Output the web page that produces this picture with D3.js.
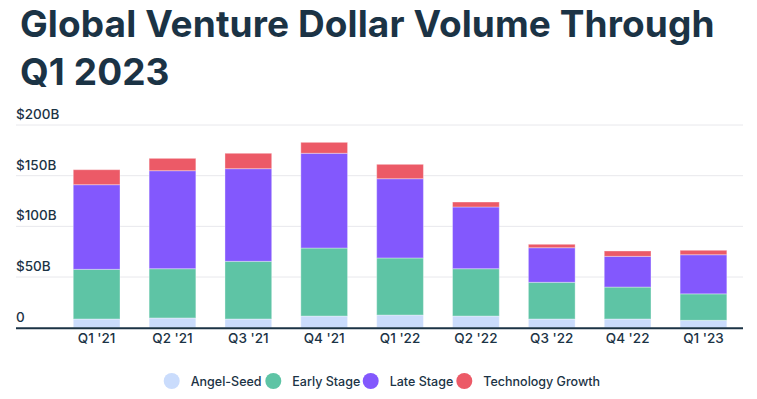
<!DOCTYPE html>
<html>
<head>
<meta charset="utf-8">
<script src="https://cdn.jsdelivr.net/npm/d3@7"></script>
<style>
  body { margin: 0; background: #fff; }
  text { font-family: Inter, "Noto Sans", sans-serif; fill: #1b3345; }
</style>
</head>
<body>
<div id="vis"></div>
<script>
// chart size
const FRAME_WIDTH = 757;
const FRAME_HEIGHT = 399;

// data, billions of dollars
const quarters = ["Q1 '21", "Q2 '21", "Q3 '21", "Q4 '21", "Q1 '22", "Q2 '22", "Q3 '22", "Q4 '22", "Q1 '23"];
const angelSeed = [8.6, 9.6, 8.6, 11.5, 12.5, 11.5, 8.6, 8.6, 7.3];
const earlyStage = [49.0, 48.6, 56.9, 67.1, 56.3, 46.7, 36.2, 31.5, 26.1];
const lateStage = [83.5, 96.7, 91.4, 93.5, 78.2, 60.9, 34.1, 30.3, 38.6];
const techGrowth = [14.8, 12.2, 15.2, 10.8, 14.2, 4.9, 3.4, 5.3, 4.4];
const seriesNames = ["Angel-Seed", "Early Stage", "Late Stage", "Technology Growth"];
const seriesColors = ["#cadcfc", "#5ec4a5", "#8358fd", "#ec5a67"];
const yTicks = [0, 50, 100, 150, 200];

const rows = quarters.map((q, i) => ({
  quarter: q,
  "Angel-Seed": angelSeed[i],
  "Early Stage": earlyStage[i],
  "Late Stage": lateStage[i],
  "Technology Growth": techGrowth[i]
}));

const FRAME = d3.select("#vis")
  .append("svg")
    .attr("width", FRAME_WIDTH)
    .attr("height", FRAME_HEIGHT);

// title
const title = FRAME.append("text")
  .attr("x", 20)
  .attr("font-size", 37)
  .attr("font-weight", 700)
  .attr("letter-spacing", 0.1);
title.append("tspan").attr("x", 20).attr("y", 37).text("Global Venture Dollar Volume Through");
title.append("tspan").attr("x", 20).attr("y", 85).text("Q1 2023");

// scales
const X_SCALE = d3.scaleBand()
  .domain(quarters)
  .range([58.7, 741.4])
  .paddingInner(0.384)
  .paddingOuter(0.192);

const Y_SCALE = d3.scaleLinear()
  .domain([0, 200])
  .range([327.7, 125]);

// gridlines + y labels
FRAME.append("g")
  .selectAll("line")
  .data(yTicks.slice(1))
  .enter()
  .append("line")
    .attr("x1", 16)
    .attr("x2", 743)
    .attr("y1", d => Y_SCALE(d))
    .attr("y2", d => Y_SCALE(d))
    .attr("stroke", "#e8e8ec")
    .attr("stroke-width", 1);

FRAME.append("g")
  .selectAll("text")
  .data(yTicks)
  .enter()
  .append("text")
    .attr("x", 16)
    .attr("y", d => Y_SCALE(d) - 6)
    .attr("font-size", 13.5)
    .attr("font-weight", 500)
    .text(d => d === 0 ? "0" : "$" + d + "B");

// stacked bars
const stack = d3.stack().keys(seriesNames)(rows);

FRAME.append("g")
  .selectAll("g")
  .data(stack)
  .enter()
  .append("g")
    .attr("fill", (d, i) => seriesColors[i])
  .selectAll("rect")
  .data(d => d)
  .enter()
  .append("rect")
    .attr("x", d => X_SCALE(d.data.quarter))
    .attr("y", d => Y_SCALE(d[1]))
    .attr("width", X_SCALE.bandwidth())
    .attr("height", d => Y_SCALE(d[0]) - Y_SCALE(d[1]))
    .attr("stroke", "#ffffff")
    .attr("stroke-opacity", 0.35)
    .attr("stroke-width", 1);

// x axis
FRAME.append("line")
  .attr("x1", 16)
  .attr("x2", 743)
  .attr("y1", 328.3)
  .attr("y2", 328.3)
  .attr("stroke", "#1b3345")
  .attr("stroke-width", 2);

FRAME.append("g")
  .selectAll("text")
  .data(quarters)
  .enter()
  .append("text")
    .attr("x", d => X_SCALE(d) + X_SCALE.bandwidth() / 2)
    .attr("y", 343)
    .attr("text-anchor", "middle")
    .attr("font-size", 13.5)
    .attr("font-weight", 500)
    .text(d => d);

// legend
const legendX = [171.7, 273.3, 370.7, 464.3];
const legend = FRAME.append("g")
  .selectAll("g")
  .data(seriesNames)
  .enter()
  .append("g")
    .attr("transform", (d, i) => "translate(" + legendX[i] + ",381)");

legend.append("circle")
  .attr("r", 8)
  .attr("fill", (d, i) => seriesColors[i]);

legend.append("text")
  .attr("x", 19)
  .attr("y", 4.5)
  .attr("font-size", 12.5)
  .attr("font-weight", 500)
  .text(d => d);
</script>
</body>
</html>
